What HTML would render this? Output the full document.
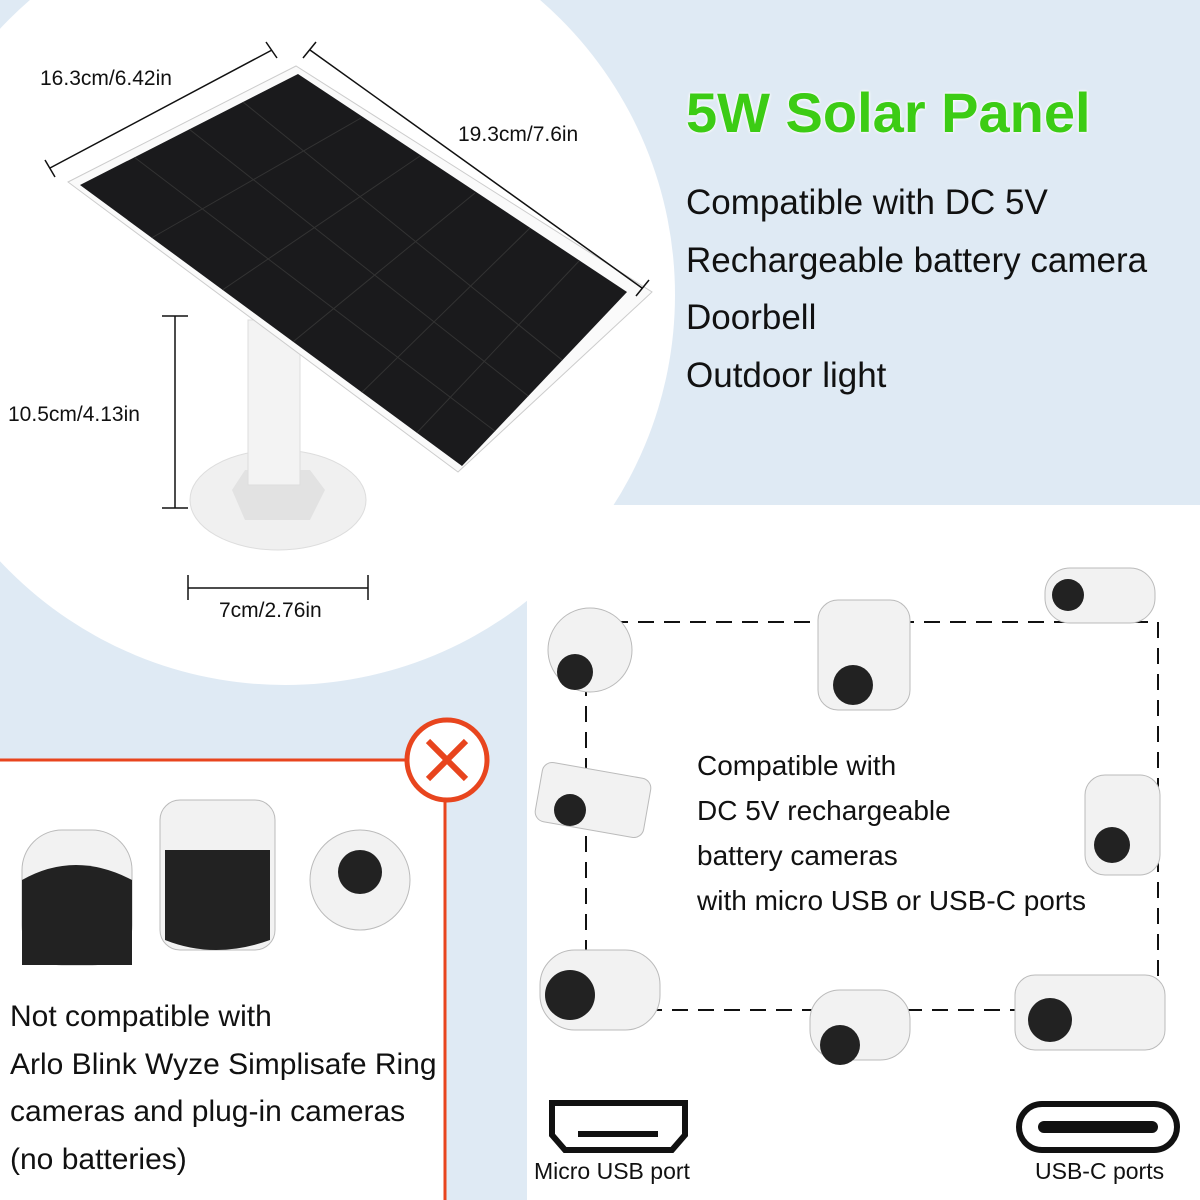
<!DOCTYPE html>
<html><head><meta charset="utf-8"><style>
body{margin:0;width:1200px;height:1200px;position:relative;overflow:hidden;background:#dfeaf4;font-family:"Liberation Sans","DejaVu Sans",sans-serif;}
.t{position:absolute;white-space:nowrap;color:#111;}
</style></head><body>
<svg width="1200" height="1200" style="position:absolute;left:0;top:0">
<defs><clipPath id="pc"><polygon points="80,185 298,74 627,292 462,466"/></clipPath></defs>
<circle cx="285" cy="295" r="390" fill="#fff"/>
<rect x="527" y="505" width="673" height="695" fill="#fff"/>
<rect x="0" y="760" width="445" height="440" fill="#fff"/>
<path d="M0 760 H445 V1200" fill="none" stroke="#e8451e" stroke-width="3"/>
<circle cx="447" cy="760" r="40" fill="#fff" stroke="#e8451e" stroke-width="5"/>
<path d="M428 741 L466 779 M466 741 L428 779" stroke="#e8451e" stroke-width="6"/>
<ellipse cx="278" cy="500" rx="88" ry="50" fill="#f0f0f0" stroke="#ddd"/>
<path d="M232 490 L245 470 L310 470 L325 490 L310 520 L245 520 Z" fill="#e2e2e2"/>
<rect x="248" y="320" width="52" height="165" fill="#f3f3f3" stroke="#ddd"/>
<polygon points="68,182 296,66 652,292 458,472" fill="#fafafa" stroke="#ccc"/>
<polygon points="80,185 298,74 627,292 462,466" fill="#1a1a1c"/>
<g stroke="#333" stroke-width="1" clip-path="url(#pc)">
<line x1="134" y1="157" x2="504" y2="438"/><line x1="189" y1="129" x2="546" y2="410"/><line x1="243" y1="102" x2="588" y2="381"/>
<line x1="148" y1="240" x2="361" y2="118"/><line x1="215" y1="295" x2="420" y2="156"/><line x1="283" y1="350" x2="475" y2="193"/><line x1="350" y1="404" x2="530" y2="228"/><line x1="410" y1="440" x2="580" y2="260"/>
</g>
<g stroke="#111" stroke-width="1.5" fill="none">
<path d="M50 168 L272 50 M45 160 L55 177 M266 42 L277 58"/>
<path d="M310 50 L642 288 M303 58 L316 42 M636 296 L649 280"/>
<path d="M175 316 V508 M162 316 H188 M162 508 H188"/>
<path d="M188 588 H368 M188 575 V600 M368 575 V600"/>
</g>
<rect x="586" y="622" width="572" height="388" fill="none" stroke="#111" stroke-width="2" stroke-dasharray="16,10"/>
<g fill="#f2f2f2" stroke="#bbb">
<circle cx="590" cy="650" r="42"/><rect x="818" y="600" width="92" height="110" rx="20"/>
<rect x="1045" y="568" width="110" height="55" rx="25"/><rect x="538" y="770" width="110" height="60" rx="10" transform="rotate(10 593 800)"/>
<rect x="1085" y="775" width="75" height="100" rx="20"/><rect x="540" y="950" width="120" height="80" rx="35"/>
<rect x="810" y="990" width="100" height="70" rx="30"/><rect x="1015" y="975" width="150" height="75" rx="20"/>
<rect x="22" y="830" width="110" height="135" rx="40"/><rect x="160" y="800" width="115" height="150" rx="20"/><circle cx="360" cy="880" r="50"/>
</g>
<g fill="#222"><circle cx="575" cy="672" r="18"/><circle cx="853" cy="685" r="20"/><circle cx="1068" cy="595" r="16"/><circle cx="570" cy="810" r="16"/><circle cx="1112" cy="845" r="18"/><circle cx="570" cy="995" r="25"/><circle cx="840" cy="1045" r="20"/><circle cx="1050" cy="1020" r="22"/>
<path d="M22 880 Q75 850 132 880 V965 H22 Z"/><path d="M165 850 H270 V940 Q215 960 165 940 Z"/><circle cx="360" cy="872" r="22"/></g>
<path d="M552 1103 H685 V1135 L672 1150 H565 L552 1135 Z" fill="none" stroke="#111" stroke-width="6"/>
<rect x="578" y="1131" width="80" height="6" fill="#111"/>
<rect x="1019" y="1104" width="158" height="46" rx="23" fill="none" stroke="#111" stroke-width="6"/>
<rect x="1038" y="1121" width="120" height="12" rx="6" fill="#111"/>
</svg>
<div class="t" style="left:40px;top:67px;font-size:21px">16.3cm/6.42in</div>
<div class="t" style="left:458px;top:123px;font-size:21px">19.3cm/7.6in</div>
<div class="t" style="left:8px;top:403px;font-size:21px">10.5cm/4.13in</div>
<div class="t" style="left:219px;top:599px;font-size:21px">7cm/2.76in</div>
<div class="t" style="left:686px;top:80px;font-size:56px;font-weight:bold;color:#3ccc14;text-shadow:0 0 3px #fff,0 0 3px #fff">5W Solar Panel</div>
<div class="t" style="left:686px;top:174px;font-size:35px;line-height:57.5px">Compatible with DC 5V<br>Rechargeable battery camera<br>Doorbell<br>Outdoor light</div>
<div class="t" style="left:697px;top:743px;font-size:28px;line-height:45px">Compatible with<br>DC 5V rechargeable<br>battery cameras<br>with micro USB or USB-C ports</div>
<div class="t" style="left:10px;top:993px;font-size:30px;line-height:47.5px">Not compatible with<br>Arlo Blink Wyze Simplisafe Ring<br>cameras and plug-in cameras<br>(no batteries)</div>
<div class="t" style="left:534px;top:1158px;font-size:23px">Micro USB port</div>
<div class="t" style="left:1035px;top:1158px;font-size:23px">USB-C ports</div>
</body></html>
